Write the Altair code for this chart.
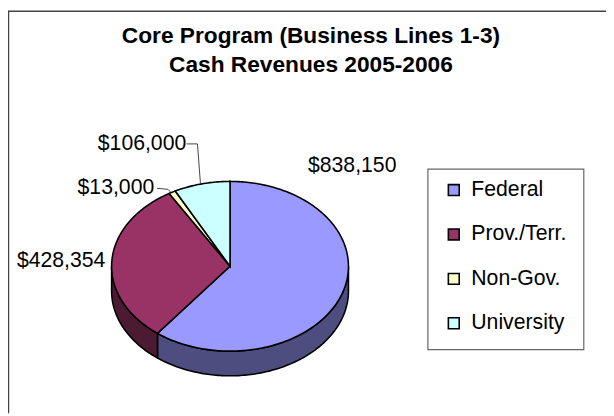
import math
import altair as alt

categories = ["Federal", "Prov./Terr.", "Non-Gov.", "University"]
values = [838150, 428354, 13000, 106000]
value_labels = ["$838,150", "$428,354", "$13,000", "$106,000"]
colors = ["#9999FF", "#993366", "#FFFFCC", "#CCFFFF"]
side_colors = ["#4D4D80", "#4D1A33", "#80805A", "#668080"]
title_lines = ["Core Program (Business Lines 1-3)", "Cash Revenues 2005-2006"]

W, H = 606, 408
CX, CY, RX, RY, DEPTH = 225, 259, 120, 86, 25
FONT = "Liberation Sans"
LABEL_SIZE = 21.5


def pt(angle, dy=0):
    r = math.radians(angle)
    return [CX + RX * math.sin(r), CY - RY * math.cos(r) + dy]


def arc(a, b, dy=0):
    n = max(2, int(abs(b - a)) + 2)
    return [pt(a + (b - a) * i / (n - 1), dy) for i in range(n)]


total = sum(values)
top_features, side_features = [], []
start = 0.0
for name, v, side in zip(categories, values, side_colors):
    end = start + 360.0 * v / total
    ring = [[CX, CY]] + arc(start, end) + [[CX, CY]]
    top_features.append({"type": "Feature", "properties": {"name": name},
                         "geometry": {"type": "Polygon", "coordinates": [ring]}})
    a, b = max(start, 90.0), min(end, 270.0)
    if b > a:
        front = arc(a, b)
        back = arc(b, a, DEPTH)
        side_ring = front + back + [front[0]]
        side_features.append({"type": "Feature", "properties": {"name": name, "side": side},
                              "geometry": {"type": "Polygon", "coordinates": [side_ring]}})
    start = end

sides = alt.Chart(alt.Data(values=side_features)).mark_geoshape(
    stroke="black", strokeWidth=1.6
).encode(fill=alt.Fill("properties.side:N", scale=None)).project(
    type="identity", scale=1, translate=[0, 0])

tops = alt.Chart(alt.Data(values=top_features)).mark_geoshape(
    stroke="black", strokeWidth=1.6
).encode(
    fill=alt.Fill(
        "properties.name:N",
        scale=alt.Scale(domain=categories, range=colors),
        sort=categories,
        legend=alt.Legend(
            title=None, orient="none", legendX=425, legendY=157,
            symbolType="square", symbolSize=121, symbolStrokeColor="black",
            symbolStrokeWidth=1.6, labelFont=FONT, labelFontSize=LABEL_SIZE, labelColor="black",
            rowPadding=22, padding=14, symbolOffset=2, labelOffset=7, labelLimit=200,
        ),
    )
).project(type="identity", scale=1, translate=[0, 0])


def text(s, x, y, **kw):
    return alt.Chart(alt.Data(values=[{"t": s}])).mark_text(
        x=x, y=y, font=FONT, fontSize=kw.pop("size", LABEL_SIZE), color="black",
        baseline="middle", **kw
    ).encode(text="t:N")


def seg(x, y, x2, y2, color="#444444", width=1.0):
    return alt.Chart(alt.Data(values=[{"a": 1}])).mark_rule(
        color=color, strokeWidth=width
    ).encode(x=alt.value(x), y=alt.value(y), x2=alt.value(x2), y2=alt.value(y2))


legend_box = alt.Chart(alt.Data(values=[{"a": 1}])).mark_rect(
    fillOpacity=0, stroke="#666666", strokeWidth=1.2
).encode(x=alt.value(425.5), x2=alt.value(583.5), y=alt.value(160.5), y2=alt.value(343.5))

layers = [
    seg(0.5, 0, 0.5, H, "#444444", 1.5),
    seg(0, 0.5, W, 0.5, "#444444", 1.5),
    sides, tops, legend_box,
    seg(181, 135, 192, 135), seg(192, 135, 195, 175),
    seg(151, 180, 162, 181), seg(162, 181, 165, 184),
    text(title_lines[0], 307, 25.5, size=23, fontWeight="bold", align="center"),
    text(title_lines[1], 307, 55.5, size=23, fontWeight="bold", align="center"),
    text(value_labels[0], 304, 157.5, align="left"),
    text(value_labels[1], 9, 254, align="left"),
    text(value_labels[2], 70.5, 180, align="left"),
    text(value_labels[3], 91, 135, align="left"),
]

chart = alt.layer(*layers).properties(
    width=W, height=H, padding=0, autosize=alt.AutoSizeParams(type="none"),
    background="white",
).configure_view(stroke=None)

chart.save("out.html", embed_options={"renderer": "svg", "actions": False})
